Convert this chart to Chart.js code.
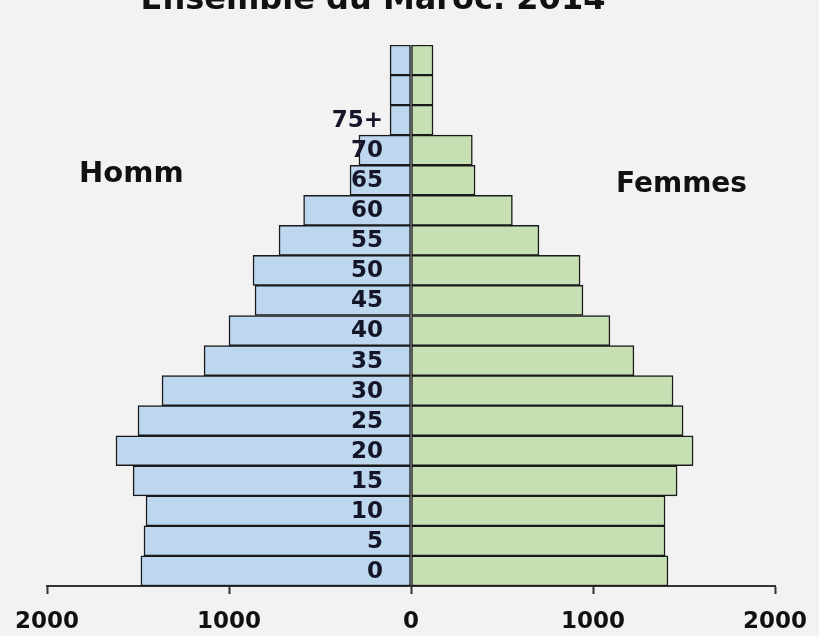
<!DOCTYPE html>
<html>
<head>
<meta charset="utf-8">
<script src="https://cdn.jsdelivr.net/npm/chart.js@4"></script>
<style>
  html, body { margin: 0; padding: 0; background: #f2f2f2; }
  #wrap { width: 819px; height: 636px; position: relative; }
</style>
</head>
<body>
<div id="wrap"><canvas id="pyramid" width="819" height="636"></canvas></div>
<script>
// Age groups, bottom to top (the two top rows carry no label in the original)
const ageGroups = ["0", "5", "10", "15", "20", "25", "30", "35", "40", "45", "50", "55", "60", "65", "70", "75+", "", ""];

// Population in thousands
const hommes = [1484, 1467, 1456, 1527, 1621, 1500, 1368, 1137, 1000, 857, 868, 725, 590, 335, 286, 115, 115, 115];
const femmes = [1412, 1396, 1396, 1462, 1550, 1495, 1440, 1225, 1093, 945, 929, 703, 557, 352, 337, 121, 121, 121];

const xTicks = [-2000, -1000, 0, 1000, 2000];

const titleText = "Ensemble du Maroc. 2014";
const leftLabel = "Homm";
const rightLabel = "Femmes";

// Title, side labels and age labels inside the men's bars
const textPlugin = {
    id: "pyramidText",
    afterDatasetsDraw(chart) {
        const ctx = chart.ctx;
        const x = chart.scales.x;
        const y = chart.scales.y;
        ctx.save();
        ctx.fillStyle = "#111111";
        ctx.textAlign = "center";
        ctx.textBaseline = "alphabetic";
        ctx.font = "bold 32px 'DejaVu Sans'";
        ctx.fillText(titleText, 373, 9);

        ctx.font = "bold 29px 'DejaVu Sans'";
        ctx.textAlign = "left";
        ctx.fillText(leftLabel, 79, 182);
        ctx.font = "bold 28px 'DejaVu Sans'";
        ctx.fillText(rightLabel, 616, 192);

        ctx.fillStyle = "#15152a";
        ctx.font = "bold 23px 'DejaVu Sans'";
        ctx.textAlign = "right";
        ctx.textBaseline = "middle";
        const x0 = x.getPixelForValue(0);
        ageGroups.forEach((lab, i) => {
            if (!lab) return;
            ctx.fillText(lab, x0 - 28, y.getPixelForValue(i) + 1);
        });
        ctx.restore();
    }
};

const ctx = document.getElementById("pyramid").getContext("2d");
new Chart(ctx, {
    type: "bar",
    data: {
        labels: ageGroups,
        datasets: [{
            label: "Hommes",
            data: hommes.map(v => -v),
            backgroundColor: "#bdd7ee",
            borderColor: "#1a1a1a",
            borderWidth: 1.5,
            borderSkipped: false
        }, {
            label: "Femmes",
            data: femmes,
            backgroundColor: "#c6e0b4",
            borderColor: "#1a1a1a",
            borderWidth: 1.5,
            borderSkipped: false
        }]
    },
    options: {
        indexAxis: "y",
        responsive: false,
        animation: false,
        layout: {
            padding: { left: 47, right: 44, top: 45, bottom: 0 }
        },
        plugins: {
            legend: { display: false },
            tooltip: { enabled: false }
        },
        datasets: {
            bar: { categoryPercentage: 1.0, barPercentage: 1.0 }
        },
        scales: {
            y: {
                display: false,
                stacked: true,
                reverse: true
            },
            x: {
                stacked: true,
                min: -2000,
                max: 2000,
                afterBuildTicks: (axis) => {
                    axis.ticks = xTicks.map(v => ({ value: v }));
                },
                afterFit: (axis) => {
                    axis.height = 50;
                    axis.paddingLeft = 0;
                    axis.paddingRight = 0;
                },
                grid: {
                    drawOnChartArea: false,
                    drawTicks: true,
                    tickLength: 8,
                    tickWidth: 2,
                    tickColor: "#333333"
                },
                border: { display: true, color: "#333333", width: 2 },
                ticks: {
                    color: "#111111",
                    padding: 14,
                    font: { family: "DejaVu Sans", size: 23, weight: "bold" },
                    callback: (v) => Math.abs(v)
                }
            }
        }
    },
    plugins: [textPlugin]
});
</script>
</body>
</html>
